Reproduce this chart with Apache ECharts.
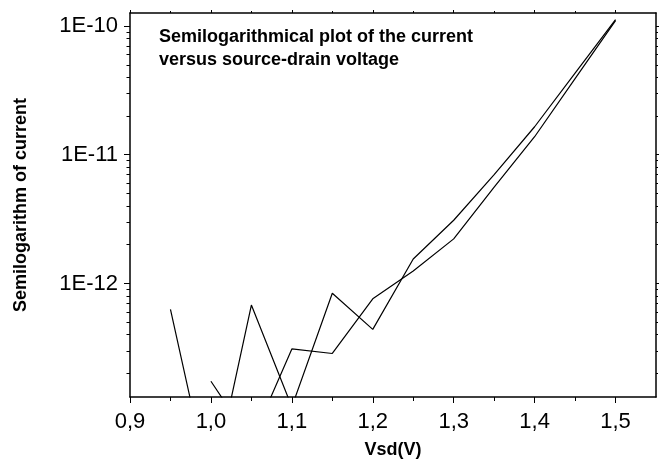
<!DOCTYPE html>
<html>
<head>
<meta charset="utf-8">
<script src="https://cdn.jsdelivr.net/npm/echarts@6/dist/echarts.min.js"></script>
<style>
html,body{margin:0;padding:0;background:#fff;}
#chart{width:667px;height:465px;}
</style>
</head>
<body>
<div id="chart"></div>
<script>
// Data
const voltages = [0.95, 1.0, 1.05, 1.1, 1.15, 1.2, 1.25, 1.3, 1.35, 1.4, 1.45, 1.5];
const currentA = [6.3e-13, 2.4e-14, 6.8e-13, 1.1e-13, 8.4e-13, 4.4e-13, 1.55e-12, 3.1e-12, 7.0e-12, 1.65e-11, 4.3e-11, 1.12e-10];
const currentB = [null, 1.74e-13, 5.9e-14, 3.1e-13, 2.86e-13, 7.6e-13, 1.25e-12, 2.22e-12, 5.6e-12, 1.38e-11, 3.9e-11, 1.1e-10];
const xMajorTicks = [0.9, 1.0, 1.1, 1.2, 1.3, 1.4, 1.5];
const xMinorTicks = [0.95, 1.05, 1.15, 1.25, 1.35, 1.45];
const yDecades = [-12, -11, -10];
const yMinorExps = [];
[-13, -12, -11, -10].forEach(function (d) {
  for (let k = 2; k <= 9; k++) yMinorExps.push(d + Math.log10(k));
});
const titleText = 'Semilogarithmical plot of the current\nversus source-drain voltage';
const xName = 'Vsd(V)';
const yName = 'Semilogarithm of current';

const yMin = 1.313e-13, yMax = 1.262e-10;
const lMin = Math.log10(yMin), lMax = Math.log10(yMax);
const FONT = 'Liberation Sans, Arial, sans-serif';
const lineCol = '#000';

function tickAxisY(pos, values, len, showLine) {
  return {
    type: 'value', position: pos, min: lMin, max: lMax,
    axisLine: { show: showLine, lineStyle: { color: lineCol, width: 1.5 } },
    axisTick: { show: true, customValues: values, length: len, lineStyle: { color: lineCol, width: 1 } },
    axisLabel: { show: false }, splitLine: { show: false }
  };
}
function tickAxisX(pos, values, len, showLine) {
  return {
    type: 'value', position: pos, min: 0.9, max: 1.55,
    axisLine: { show: showLine, onZero: false, lineStyle: { color: lineCol, width: 1.5 } },
    axisTick: { show: true, customValues: values, length: len, lineStyle: { color: lineCol, width: 1 } },
    axisLabel: { show: false }, splitLine: { show: false }
  };
}

const chart = echarts.init(document.getElementById('chart'), null, { renderer: 'canvas' });
chart.setOption({
  backgroundColor: '#fff',
  animation: false,
  title: {
    text: titleText, left: 159, top: 26, padding: 0,
    textStyle: { fontFamily: FONT, fontWeight: 'bold', fontSize: 18, lineHeight: 23, color: '#000' }
  },
  grid: { left: 130, right: 11, top: 13, bottom: 68, containLabel: false },
  xAxis: [
    {
      type: 'value', position: 'bottom', min: 0.9, max: 1.55, interval: 0.1,
      name: xName, nameLocation: 'middle', nameGap: 44,
      nameTextStyle: { fontFamily: FONT, fontWeight: 'bold', fontSize: 18, color: '#000' },
      axisLine: { show: true, onZero: false, lineStyle: { color: lineCol, width: 1.5 } },
      axisTick: { show: true, customValues: xMajorTicks, length: 6, lineStyle: { color: lineCol, width: 1 } },
      axisLabel: {
        show: true, customValues: xMajorTicks, margin: 14, fontFamily: FONT, fontSize: 22, color: '#000',
        formatter: function (v) { return v.toFixed(1).replace('.', ','); }
      },
      splitLine: { show: false }
    },
    tickAxisX('bottom', xMinorTicks, 4, false),
    tickAxisX('top', xMajorTicks, 3, true),
    tickAxisX('top', xMinorTicks, 2, false)
  ],
  yAxis: [
    {
      type: 'log', logBase: 10, min: yMin, max: yMax, position: 'left',
      name: yName, nameLocation: 'middle', nameGap: 100,
      nameTextStyle: { fontFamily: FONT, fontWeight: 'bold', fontSize: 18, color: '#000' },
      axisLine: { show: true, lineStyle: { color: lineCol, width: 1.5 } },
      axisTick: { show: false },
      axisLabel: {
        show: true, margin: 12, fontFamily: FONT, fontSize: 22, color: '#000',
        showMinLabel: true, showMaxLabel: true,
        formatter: function (v) {
          const e = Math.log10(v);
          const r = Math.round(e);
          if (Math.abs(e - r) < 0.01 && yDecades.indexOf(r) >= 0) return '1E' + r;
          return '';
        }
      },
      splitLine: { show: false }, minorTick: { show: false }
    },
    tickAxisY('left', yDecades, 6, false),
    tickAxisY('left', yMinorExps, 3.5, false),
    tickAxisY('right', yDecades, 3, true),
    tickAxisY('right', yMinorExps, 2, false)
  ],
  series: [
    {
      type: 'line', xAxisIndex: 0, yAxisIndex: 0, showSymbol: false, symbol: 'none',
      lineStyle: { color: '#000', width: 1.2 }, clip: true,
      data: voltages.map(function (v, i) { return [v, currentA[i] == null ? '-' : currentA[i]]; })
    },
    {
      type: 'line', xAxisIndex: 0, yAxisIndex: 0, showSymbol: false, symbol: 'none',
      lineStyle: { color: '#000', width: 1.2 }, clip: true,
      data: voltages.map(function (v, i) { return [v, currentB[i] == null ? '-' : currentB[i]]; })
    }
  ]
});
</script>
</body>
</html>
